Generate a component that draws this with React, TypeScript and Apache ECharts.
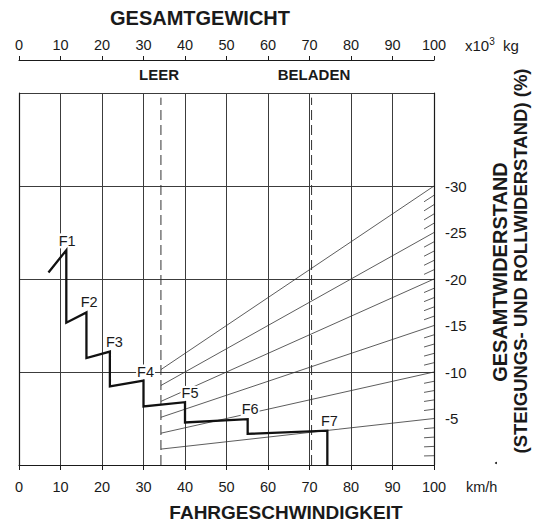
import React, { useEffect, useRef } from "react";
import * as echarts from "echarts";

// ---- data ----
const stepSpeed = [7.1, 11.4, 11.4, 16.25, 16.25, 21.9, 21.9, 30, 30, 40, 40, 55.1, 55.1, 74.3, 74.3];
const stepResist = [20.7, 23.1, 15.3, 16.4, 11.5, 12.2, 8.46, 9.07, 6.3, 6.75, 4.57, 4.93, 3.35, 3.7, 0];

const gearNames = ["F1", "F2", "F3", "F4", "F5", "F6", "F7"];
const gearLabelX = [11.6, 16.9, 23.0, 30.5, 41.2, 55.7, 74.8];
const gearLabelY = [24.1, 17.5, 13.2, 10.0, 7.7, 6.0, 4.75];

const grades = [5, 10, 15, 20, 25, 30];
const minorGrades = [1, 2, 3, 4, 6, 7, 8, 9, 11, 12, 13, 14, 16, 17, 18, 19, 21, 22, 23, 24, 26, 27, 28, 29];
const emptyWeight = 34.2;
const loadedWeight = 70.5;
const rightTickLabels = [5, 10, 15, 20, 25, 30];

const FONT = "'Liberation Sans', Arial, Helvetica, sans-serif";
const INK = "#1a1a1a";
const GRID = "#3c3c3c";

export default function App() {
  const ref = useRef<HTMLDivElement>(null);
  useEffect(() => {
    if (!ref.current) return;
    const chart = echarts.init(ref.current, undefined, { renderer: "svg" });

    const gradeSeries = grades.map((g) => ({
      type: "line",
      data: [
        [emptyWeight, (g * emptyWeight) / 100],
        [100, g],
      ],
      symbol: "none",
      silent: true,
      lineStyle: { color: "#333", width: 0.8 },
      z: 2,
    }));
    const minorSeries = minorGrades.map((g) => ({
      type: "line",
      data: [
        [97.6, (g * 97.6) / 100],
        [100, g],
      ],
      symbol: "none",
      silent: true,
      lineStyle: { color: "#333", width: 0.8 },
      z: 2,
    }));
    const dashSeries = [emptyWeight, loadedWeight].map((w) => ({
      type: "line",
      data: [
        [w, 0],
        [w, 39.5],
      ],
      symbol: "none",
      silent: true,
      lineStyle: { color: "#333", width: 1, type: [10, 5] },
      z: 2,
    }));

    chart.setOption({
      animation: false,
      textStyle: { fontFamily: FONT },
      grid: { left: 19, top: 93, width: 415, height: 372 },
      xAxis: [
        {
          type: "value",
          position: "bottom",
          min: 0,
          max: 100,
          interval: 10,
          axisLine: { show: true, onZero: false, lineStyle: { color: INK, width: 1.2 } },
          axisTick: { show: true, length: 5, lineStyle: { color: INK, width: 1 } },
          axisLabel: { fontSize: 14.5, color: INK, margin: 14, fontFamily: FONT },
          splitLine: { show: true, lineStyle: { color: GRID, width: 1 } },
        },
        {
          type: "value",
          position: "top",
          offset: 33,
          min: 0,
          max: 100,
          interval: 10,
          axisLine: { show: true, onZero: false, lineStyle: { color: INK, width: 1.2 } },
          axisTick: { show: true, length: 4, lineStyle: { color: INK, width: 1 } },
          axisLabel: { fontSize: 14.5, color: INK, margin: 8, fontFamily: FONT },
          splitLine: { show: false },
        },
      ],
      yAxis: [
        {
          type: "value",
          position: "left",
          min: 0,
          max: 40,
          interval: 10,
          axisLine: { show: true, onZero: false, lineStyle: { color: INK, width: 1.2 } },
          axisTick: { show: false },
          axisLabel: { show: false },
          splitLine: { show: true, lineStyle: { color: GRID, width: 1 } },
        },
        {
          type: "value",
          position: "right",
          min: 0,
          max: 40,
          interval: 5,
          axisLine: { show: true, onZero: false, lineStyle: { color: INK, width: 1.2 } },
          axisTick: { show: false },
          axisLabel: {
            fontSize: 15,
            color: INK,
            margin: 11,
            fontFamily: FONT,
            formatter: (v: number) => (rightTickLabels.indexOf(v) >= 0 ? "-" + v : ""),
          },
          splitLine: { show: false },
        },
      ],
      series: [
        ...gradeSeries,
        ...minorSeries,
        ...dashSeries,
        {
          type: "scatter",
          data: gearNames.map((n, i) => ({ name: n, value: [gearLabelX[i], gearLabelY[i]] })),
          symbolSize: 0,
          silent: true,
          z: 4,
          itemStyle: { opacity: 1 },
          label: {
            show: true,
            position: "inside",
            formatter: (p: any) => p.name,
            fontSize: 14.5,
            color: INK,
            opacity: 1,
            fontFamily: FONT,
            backgroundColor: "#fff",
            padding: [0, 1],
          },
        },
        {
          type: "line",
          data: stepSpeed.map((x, i) => [x, stepResist[i]]),
          symbol: "none",
          silent: true,
          lineStyle: { color: "#111", width: 2.3, join: "miter" },
          z: 5,
        },
      ],
      graphic: [
        {
          type: "text",
          x: 200,
          y: 18,
          style: { text: "GESAMTGEWICHT", font: `bold 20px ${FONT}`, fill: INK, align: "center", verticalAlign: "middle" },
        },
        {
          type: "text",
          x: 465,
          y: 45,
          style: {
            text: "x10{s|3}  kg",
            rich: { s: { fontSize: 10, verticalAlign: "top", padding: [0, 0, 7, 0], fill: INK } },
            font: `15px ${FONT}`,
            fill: INK,
            align: "left",
            verticalAlign: "middle",
          },
        },
        {
          type: "text",
          x: 159,
          y: 74,
          style: { text: "LEER", font: `bold 15px ${FONT}`, fill: INK, align: "center", verticalAlign: "middle" },
        },
        {
          type: "text",
          x: 314,
          y: 74,
          style: { text: "BELADEN", font: `bold 15px ${FONT}`, fill: INK, align: "center", verticalAlign: "middle" },
        },
        {
          type: "text",
          x: 466,
          y: 487,
          style: { text: "km/h", font: `14.5px ${FONT}`, fill: INK, align: "left", verticalAlign: "middle" },
        },
        {
          type: "text",
          x: 286,
          y: 512,
          style: { text: "FAHRGESCHWINDIGKEIT", font: `bold 19px ${FONT}`, fill: INK, align: "center", verticalAlign: "middle" },
        },
        {
          type: "text",
          x: 500,
          y: 272,
          rotation: Math.PI / 2,
          style: { text: "GESAMTWIDERSTAND", font: `bold 20px ${FONT}`, fill: INK, align: "center", verticalAlign: "middle" },
        },
        {
          type: "text",
          x: 520,
          y: 261,
          rotation: Math.PI / 2,
          style: {
            text: "(STEIGUNGS- UND ROLLWIDERSTAND) (%)",
            font: `bold 18.5px ${FONT}`,
            fill: INK,
            align: "center",
            verticalAlign: "middle",
          },
        },
        {
          type: "circle",
          shape: { cx: 496, cy: 463, r: 1 },
          style: { fill: INK },
        },
      ],
    });
    return () => chart.dispose();
  }, []);
  return (
    <div
      ref={ref}
      style={{ position: "absolute", left: 0, top: 0, width: 536, height: 524, background: "#fff" }}
    />
  );
}
